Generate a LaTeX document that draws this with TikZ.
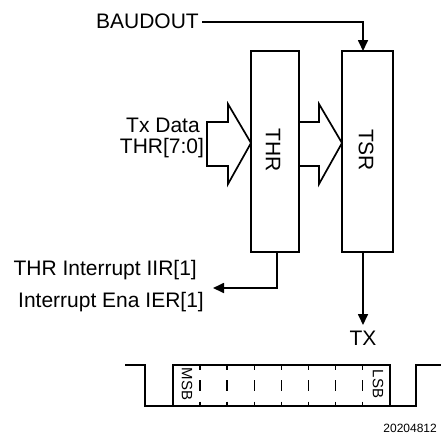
\documentclass[tikz,border=0pt]{standalone}
\usepackage{fontspec}
\setmainfont{Liberation Sans}
\usetikzlibrary{arrows.meta}
\begin{document}
\begin{tikzpicture}[x=1pt,y=-1pt,
  wire/.style={line width=1.7pt},
  tip/.style={-{Triangle[length=11pt,width=10pt]}},
  lbl/.style={font=\fontsize{21}{23}\selectfont, inner sep=0pt},
  small/.style={font=\fontsize{15}{17}\selectfont, inner sep=0pt},
  tiny/.style={font=\fontsize{12}{14}\selectfont, inner sep=0pt},
  reg/.style={draw, line width=1.7pt}]
\useasboundingbox (0,0) rectangle (441,434);
% registers
\draw[reg] (251,51) rectangle (299,252);
\draw[reg] (342,51) rectangle (393,252);
\node[lbl, rotate=-90] (thr) at (273,150) {THR};
\node[lbl, rotate=-90] (tsr) at (366,150) {TSR};
\coordinate (tsrtop) at (363,51);
\coordinate (thrbot) at (277,252);
\coordinate (tsrbot) at (363,252);
% BAUDOUT
\node[lbl, anchor=east] (baud) at (199,21) {BAUDOUT};
\coordinate (bcorner) at (363,22);
\draw[wire, tip] (baud.east |- bcorner) ++(3,0) -- (bcorner) -- (tsrtop);
% big arrows
\draw[wire, line join=miter] (207,122) -- (228,122) -- (228,104) -- (251,143) -- (228,184) -- (228,166) -- (207,166) -- cycle;
\draw[wire, line join=miter] (299,122) -- (319,122) -- (319,104) -- (342,143) -- (319,184) -- (319,166) -- (299,166);
% Tx data label
\node[lbl] (txd) at (163,125) {Tx Data};
\node[lbl] (thrd) at (162,148) {THR[7:0]};
% interrupt
\coordinate (icorner) at (277,288);
\coordinate (iend) at (213,288);
\draw[wire, tip] (thrbot) -- (icorner) -- (iend);
\node[lbl, anchor=east] (irq1) at (197,270) {THR Interrupt IIR[1]};
\node[lbl, anchor=east] (irq2) at (204,302) {Interrupt Ena IER[1]};
% TX
\coordinate (txend) at (363,325);
\draw[wire, tip] (tsrbot) -- (txend);
\node[lbl] (tx) at (363,338) {TX};
% waveform
\draw[wire, line join=miter] (125,365) -- (145,365) -- (145,406) -- (416,406) -- (416,365) -- (441,365);
\draw[wire, line join=miter] (173,406) -- (173,365) -- (390,365) -- (390,406);
\foreach \k in {1,...,7} {
  \draw[line width=1.5pt] ({173+27.1*\k},365) -- ++(0,4.5);
  \draw[line width=1.5pt] ({173+27.1*\k},380) -- ++(0,11);
  \draw[line width=1.5pt] ({173+27.1*\k},401.5) -- ++(0,4.5);
}
\node[small, rotate=-90] (msb) at (187,384) {MSB};
\node[small, rotate=-90] (lsb) at (378,384) {LSB};
\node[tiny, anchor=east] (num) at (437,428) {20204812};
\end{tikzpicture}
\end{document}
